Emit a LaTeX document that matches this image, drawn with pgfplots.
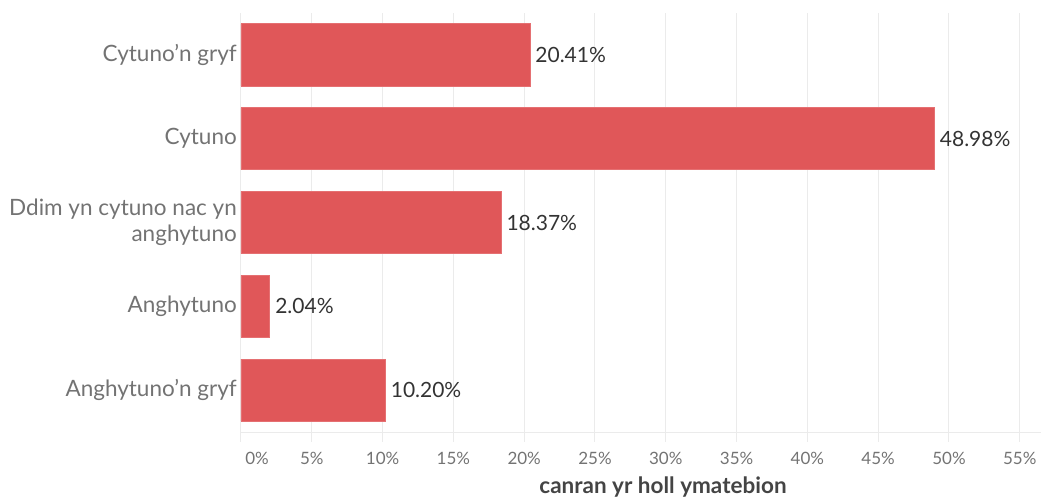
\documentclass[border=0pt]{standalone}
\usepackage{fontspec}
\setmainfont{Lato}
\usepackage{pgfplots}
\pgfplotsset{compat=1.18}
\definecolor{barred}{HTML}{E05759}
\definecolor{catgray}{HTML}{737373}
\definecolor{valdark}{HTML}{333333}
\definecolor{gridgray}{HTML}{EBEBEB}
\definecolor{titlegray}{HTML}{444444}

\begin{document}
\begin{tikzpicture}
\begin{axis}[
  at={(241pt,67pt)}, anchor=south west,
  scale only axis,
  width=800pt, height=419pt,
  /pgf/number format/assume math mode=true,
  xbar,
  bar width=0.74,
  xmin=0, xmax=56.5,
  ymin=-0.5, ymax=4.5,
  xtick={5,10,...,55},
  extra x ticks={0},
  extra x tick style={xticklabel style={xshift=16pt}, grid=major},
  xticklabel={\pgfmathprintnumber{\tick}\%},
  xmajorgrids=true,
  grid style={gridgray, line width=1pt},
  axis x line*=bottom,
  axis y line*=left,
  y axis line style={draw=none},
  x axis line style={gridgray, line width=1pt, -},
  tick align=outside,
  major tick length=10pt,
  xtick style={gridgray, line width=1pt},
  ytick={0,1,2,3,4},
  yticklabels={Anghytuno’n gryf, Anghytuno, {Ddim yn cytuno nac yn\\anghytuno}, Cytuno, Cytuno’n gryf},
  ytick style={draw=none},
  yticklabel style={font=\fontsize{22.5}{26}\selectfont, text=catgray, align=right, inner sep=0pt, xshift=6pt},
  xticklabel style={font=\fontsize{17}{20}\selectfont, text=catgray, inner sep=0pt, yshift=-10pt},
  xlabel={\textbf{canran yr holl ymatebion}},
  xlabel style={font=\fontsize{22.5}{24}\selectfont, text=titlegray, inner sep=0pt, yshift=8pt, xshift=22pt},
  nodes near coords={\pgfmathprintnumber[fixed,fixed zerofill,precision=2]{\pgfplotspointmeta}\%},
  point meta=x,
  every node near coord/.append style={font=\fontsize{21}{24}\selectfont, text=valdark, inner sep=0pt, xshift=5pt, anchor=west},
]
\addplot[fill=barred, draw=barred!85!white, line width=0.8pt] coordinates {
  (10.20,0) (2.04,1) (18.37,2) (48.98,3) (20.41,4)
};
\end{axis}
\pgfresetboundingbox
\path[use as bounding box] (0,0) rectangle (1042pt,499pt);
\end{tikzpicture}
\end{document}
